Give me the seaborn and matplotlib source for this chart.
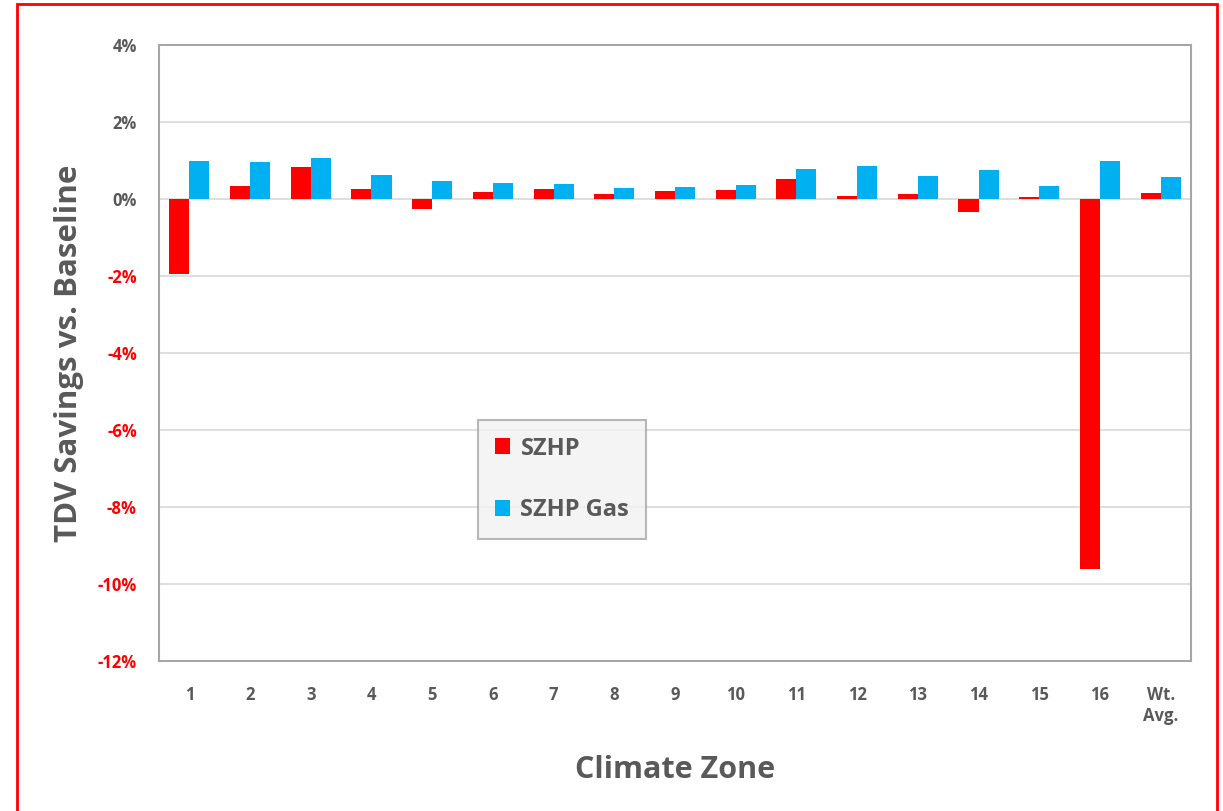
import matplotlib
matplotlib.use("Agg")
import matplotlib.pyplot as plt
import seaborn as sns
import pandas as pd
from matplotlib.patches import Rectangle

zones = ["1", "2", "3", "4", "5", "6", "7", "8", "9", "10", "11", "12", "13", "14", "15", "16", "Wt.\nAvg."]
szhp = [-1.95, 0.33, 0.84, 0.27, -0.25, 0.19, 0.27, 0.12, 0.21, 0.24, 0.52, 0.08, 0.13, -0.33, 0.06, -9.61, 0.16]
szhp_gas = [0.99, 0.95, 1.06, 0.62, 0.46, 0.42, 0.39, 0.28, 0.32, 0.36, 0.77, 0.85, 0.59, 0.75, 0.35, 1.00, 0.56]
series_names = ["SZHP", "SZHP Gas"]
yticks = [4, 2, 0, -2, -4, -6, -8, -10, -12]

df = pd.DataFrame({
    "zone": zones * 2,
    "value": szhp + szhp_gas,
    "series": [series_names[0]] * len(zones) + [series_names[1]] * len(zones),
})

sns.set_theme(style="white")
plt.rcParams['font.family'] = ['Open Sans', 'DejaVu Sans']

fig = plt.figure(figsize=(12.23, 8.11), dpi=100)
ax = fig.add_axes([159/1223, 1 - 661/811, (1191-159)/1223, (661-45)/811])

palette = {"SZHP": "#ff0000", "SZHP Gas": "#00b0f0"}
sns.barplot(data=df, x="zone", y="value", hue="series", palette=palette,
            width=0.66, ax=ax, saturation=1, edgecolor="none", linewidth=0)

ax.set_ylim(-12, 4)
ax.set_yticks(yticks)
ax.set_yticklabels([f"{v}%" for v in yticks])
for lbl, v in zip(ax.get_yticklabels(), yticks):
    lbl.set_color("#ff0000" if v < 0 else "#595959")
    lbl.set_fontweight("bold")
    lbl.set_fontsize(12)
for lbl in ax.get_xticklabels():
    lbl.set_color("#595959")
    lbl.set_fontweight("bold")
    lbl.set_fontsize(12)
ax.tick_params(axis="y", pad=16, length=0)
ax.tick_params(axis="x", pad=18, length=0)

ax.yaxis.grid(True, color="#d9d9d9", linewidth=1.2)
ax.set_axisbelow(True)
for s in ax.spines.values():
    s.set_visible(True)
    s.set_color("#a6a6a6")
    s.set_linewidth(1.5)

ax.set_xlabel("Climate Zone", fontsize=22, fontweight="bold", color="#595959", labelpad=22)
ax.set_ylabel("TDV Savings vs. Baseline", fontsize=22.5, fontweight="bold", color="#595959", labelpad=10)

leg = ax.legend(loc="upper left", bbox_to_anchor=((478-159)/1032, (661-420)/616),
                frameon=True, fancybox=False, facecolor="#f2f2f2", edgecolor="#a6a6a6",
                handlelength=0.65, handleheight=0.65, handletextpad=0.45, labelspacing=1.6,
                borderpad=0.7, borderaxespad=0, prop={"weight": "bold", "size": 17})
leg.get_frame().set_linewidth(1.5)
for t in leg.get_texts():
    t.set_color("#595959")

fig.patches.append(Rectangle((17/1223, -0.01), (1217-17)/1223, 1 - 4/811 + 0.01,
                             transform=fig.transFigure, fill=False, edgecolor="#ff0000",
                             linewidth=2))

fig.savefig("out.png", dpi=100)
